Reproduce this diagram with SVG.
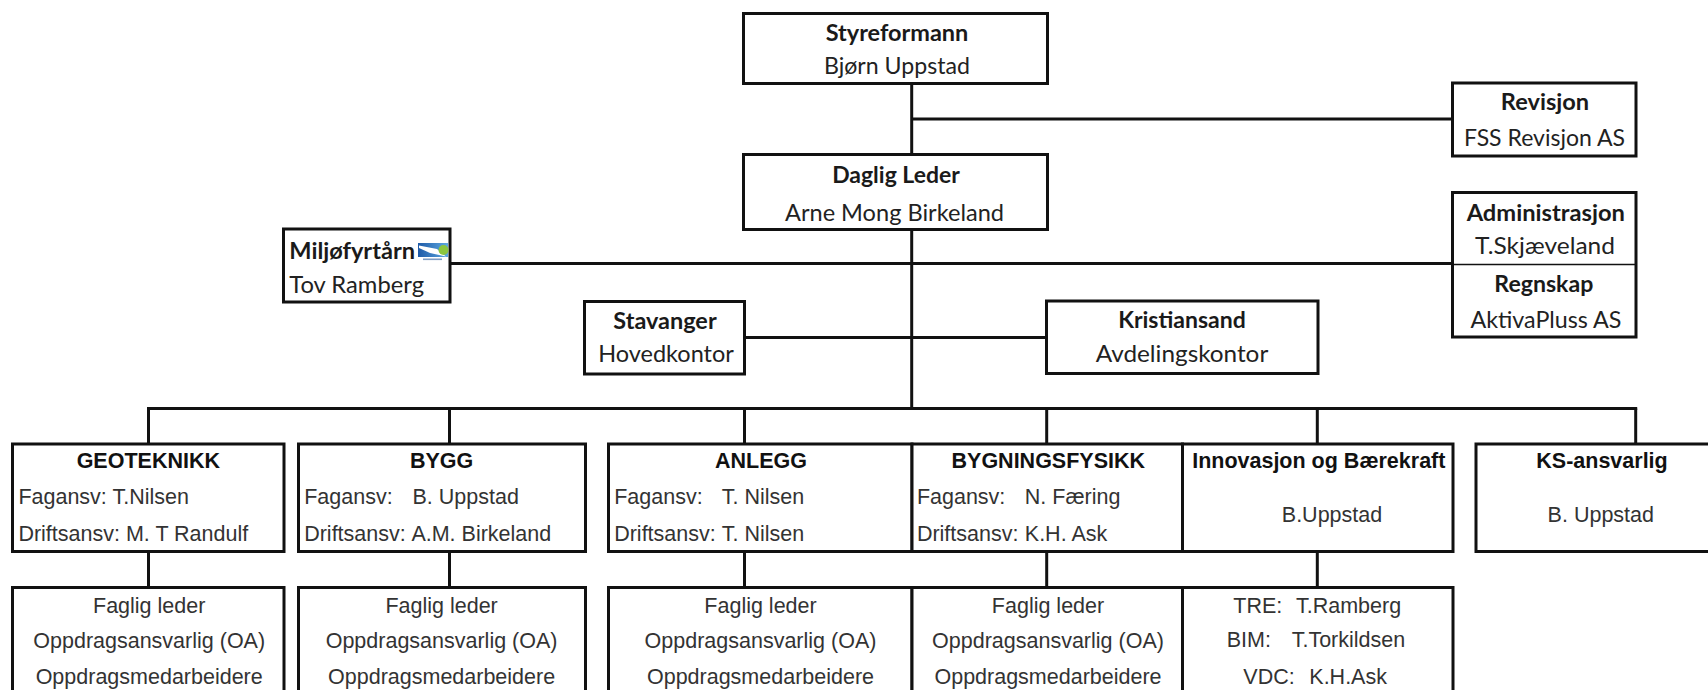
<svg xmlns="http://www.w3.org/2000/svg" width="1708" height="690" viewBox="0 0 1708 690">
<defs>
<style>
.box{fill:#fff;stroke:#111;stroke-width:3}
.div{stroke:#111;stroke-width:1.6}
.conn line{stroke:#111;stroke-width:3}
.cb{font-family:Lato,"Open Sans",sans-serif;font-weight:bold;font-size:22.5px;fill:#1a1a1a;text-anchor:middle}
.cr{font-family:Lato,"Open Sans",sans-serif;font-size:22.5px;fill:#222;text-anchor:middle}
.ab{font-family:"Liberation Sans",Arial,sans-serif;font-weight:bold;font-size:21.5px;fill:#111;text-anchor:middle}
.ar{font-family:"Liberation Sans",Arial,sans-serif;font-size:21.5px;fill:#333}
.arm{font-family:"Liberation Sans",Arial,sans-serif;font-size:21.5px;fill:#333;text-anchor:middle}
.l{text-anchor:start}
</style>
<linearGradient id="logoGrad" x1="0" y1="0" x2="1" y2="0">
<stop offset="0" stop-color="#1d5aa8"/>
<stop offset="1" stop-color="#5fa9e0"/>
</linearGradient>
</defs>
<rect width="1708" height="690" fill="#fff"/>

<g id="connectors" class="conn">
<line x1="911.7" y1="83.5" x2="911.7" y2="154.5"/>
<line x1="911.7" y1="229.5" x2="911.7" y2="408.5"/>
<line x1="911.7" y1="119" x2="1452.5" y2="119"/>
<line x1="450" y1="263.5" x2="1452.5" y2="263.5"/>
<line x1="744.5" y1="337.5" x2="1046.5" y2="337.5"/>
<line x1="147" y1="408.5" x2="1637.2" y2="408.5"/>
<line x1="148.5" y1="408.5" x2="148.5" y2="444"/>
<line x1="449.5" y1="408.5" x2="449.5" y2="444"/>
<line x1="744.5" y1="408.5" x2="744.5" y2="444"/>
<line x1="1046.7" y1="408.5" x2="1046.7" y2="444"/>
<line x1="1317.3" y1="408.5" x2="1317.3" y2="444"/>
<line x1="1635.7" y1="408.5" x2="1635.7" y2="444"/>
<line x1="148.5" y1="551.5" x2="148.5" y2="587.5"/>
<line x1="449.5" y1="551.5" x2="449.5" y2="587.5"/>
<line x1="744.5" y1="551.5" x2="744.5" y2="587.5"/>
<line x1="1046.7" y1="551.5" x2="1046.7" y2="587.5"/>
<line x1="1317.3" y1="551.5" x2="1317.3" y2="587.5"/>
</g>

<g id="styreformann">
<rect class="box" x="743.5" y="13.5" width="304" height="70"/>
<text class="cb" x="897" y="40.7" textLength="142.7" lengthAdjust="spacingAndGlyphs">Styreformann</text>
<text class="cr" x="897" y="74" textLength="146" lengthAdjust="spacingAndGlyphs">Bjørn Uppstad</text>
</g>

<g id="revisjon">
<rect class="box" x="1452.5" y="83" width="183.5" height="73"/>
<text class="cb" x="1545" y="110" textLength="88.3" lengthAdjust="spacingAndGlyphs">Revisjon</text>
<text class="cr" x="1544.5" y="146" textLength="161" lengthAdjust="spacingAndGlyphs">FSS Revisjon AS</text>
</g>

<g id="daglig-leder">
<rect class="box" x="743.5" y="154.5" width="304" height="75"/>
<text class="cb" x="896" y="183.3" textLength="127.7" lengthAdjust="spacingAndGlyphs">Daglig Leder</text>
<text class="cr" x="894.5" y="220.7" textLength="219" lengthAdjust="spacingAndGlyphs">Arne Mong Birkeland</text>
</g>

<g id="administrasjon-regnskap">
<rect class="box" x="1452.5" y="192.5" width="183.5" height="144.5"/>
<line class="div" x1="1452.5" y1="264.5" x2="1636" y2="264.5"/>
<text class="cb" x="1545.8" y="221" textLength="158.3" lengthAdjust="spacingAndGlyphs">Administrasjon</text>
<text class="cr" x="1545" y="254.3" textLength="140" lengthAdjust="spacingAndGlyphs">T.Skjæveland</text>
<text class="cb" x="1543.8" y="292.3" textLength="99" lengthAdjust="spacingAndGlyphs">Regnskap</text>
<text class="cr" x="1546" y="327.7" textLength="151" lengthAdjust="spacingAndGlyphs">AktivaPluss AS</text>
</g>

<g id="miljofyrtarn">
<rect class="box" x="283.5" y="229" width="166.5" height="73"/>
<text class="cb l" x="289.3" y="259.3" textLength="125.7" lengthAdjust="spacingAndGlyphs">Miljøfyrtårn</text>
<text class="cr l" x="289.3" y="292.7" textLength="134.7" lengthAdjust="spacingAndGlyphs">Tov Ramberg</text>
<rect x="418" y="243" width="30" height="14" fill="url(#logoGrad)"/>
<polygon points="419,245.5 437,249 446,256.5 430,253 419,248" fill="#fff"/>
<circle cx="443.5" cy="250" r="5" fill="#8cc63f"/>
<rect x="423" y="258.5" width="19" height="1.6" fill="#7d9cc4"/>
</g>

<g id="stavanger">
<rect class="box" x="584.5" y="301.5" width="160" height="72.5"/>
<text class="cb" x="665" y="329" textLength="103.3" lengthAdjust="spacingAndGlyphs">Stavanger</text>
<text class="cr" x="666" y="362.3" textLength="135.7" lengthAdjust="spacingAndGlyphs">Hovedkontor</text>
</g>

<g id="kristiansand">
<rect class="box" x="1046.5" y="301" width="271.5" height="72.5"/>
<text class="cb" x="1182" y="327.7" textLength="127.7" lengthAdjust="spacingAndGlyphs">Kristiansand</text>
<text class="cr" x="1182" y="362.3" textLength="172.5" lengthAdjust="spacingAndGlyphs">Avdelingskontor</text>
</g>

<g id="geoteknikk">
<rect class="box" x="12.5" y="444" width="271.5" height="107.5"/>
<text class="ab" x="148.3" y="468.3">GEOTEKNIKK</text>
<text class="ar" x="18.4" y="504.3">Fagansv: T.Nilsen</text>
<text class="ar" x="18.4" y="540.7">Driftsansv: M. T Randulf</text>
</g>

<g id="bygg">
<rect class="box" x="298.5" y="444" width="287" height="107.5"/>
<text class="ab" x="441.6" y="468.3">BYGG</text>
<text class="ar" x="304.2" y="504.3">Fagansv:<tspan x="412.5">B. Uppstad</tspan></text>
<text class="ar" x="304.2" y="540.7">Driftsansv:<tspan x="411.4">A.M. Birkeland</tspan></text>
</g>

<g id="anlegg">
<rect class="box" x="608.5" y="444" width="303.5" height="107.5"/>
<text class="ab" x="761" y="468.3">ANLEGG</text>
<text class="ar" x="614.2" y="504.3">Fagansv:<tspan x="721.7">T. Nilsen</tspan></text>
<text class="ar" x="614.2" y="540.7">Driftsansv:<tspan x="721.7">T. Nilsen</tspan></text>
</g>

<g id="bygningsfysikk">
<rect class="box" x="912" y="444" width="270.5" height="107.5"/>
<text class="ab" x="1048.3" y="468.3">BYGNINGSFYSIKK</text>
<text class="ar" x="916.9" y="504.3">Fagansv:<tspan x="1024.8">N. Færing</tspan></text>
<text class="ar" x="916.9" y="540.7">Driftsansv:<tspan x="1024.8">K.H. Ask</tspan></text>
</g>

<g id="innovasjon">
<rect class="box" x="1182.5" y="444" width="270.5" height="107.5"/>
<text class="ab" x="1318.8" y="468.3">Innovasjon og Bærekraft</text>
<text class="arm" x="1332" y="522.3">B.Uppstad</text>
</g>

<g id="ks-ansvarlig">
<rect class="box" x="1476" y="444" width="240" height="107.5"/>
<text class="ab" x="1602" y="468.3">KS-ansvarlig</text>
<text class="arm" x="1600.8" y="522.3">B. Uppstad</text>
</g>

<g id="geoteknikk-team">
<rect class="box" x="12.5" y="587.5" width="271.5" height="120"/>
<text class="arm" x="149.2" y="612.7">Faglig leder</text>
<text class="arm" x="149.2" y="648.3">Oppdragsansvarlig (OA)</text>
<text class="arm" x="149.2" y="684">Oppdragsmedarbeidere</text>
</g>

<g id="bygg-team">
<rect class="box" x="298.5" y="587.5" width="287" height="120"/>
<text class="arm" x="441.6" y="612.7">Faglig leder</text>
<text class="arm" x="441.6" y="648.3">Oppdragsansvarlig (OA)</text>
<text class="arm" x="441.6" y="684">Oppdragsmedarbeidere</text>
</g>

<g id="anlegg-team">
<rect class="box" x="608.5" y="587.5" width="303.5" height="120"/>
<text class="arm" x="760.5" y="612.7">Faglig leder</text>
<text class="arm" x="760.5" y="648.3">Oppdragsansvarlig (OA)</text>
<text class="arm" x="760.5" y="684">Oppdragsmedarbeidere</text>
</g>

<g id="bygningsfysikk-team">
<rect class="box" x="912" y="587.5" width="270.5" height="120"/>
<text class="arm" x="1048" y="612.7">Faglig leder</text>
<text class="arm" x="1048" y="648.3">Oppdragsansvarlig (OA)</text>
<text class="arm" x="1048" y="684">Oppdragsmedarbeidere</text>
</g>

<g id="innovasjon-team">
<rect class="box" x="1182.5" y="587.5" width="270.5" height="120"/>
<text class="ar" x="1233.3" y="613.3">TRE:<tspan x="1296">T.Ramberg</tspan></text>
<text class="ar" x="1226.7" y="646.7">BIM:<tspan x="1291.7">T.Torkildsen</tspan></text>
<text class="ar" x="1243.3" y="684">VDC:<tspan x="1309.3">K.H.Ask</tspan></text>
</g>
</svg>
